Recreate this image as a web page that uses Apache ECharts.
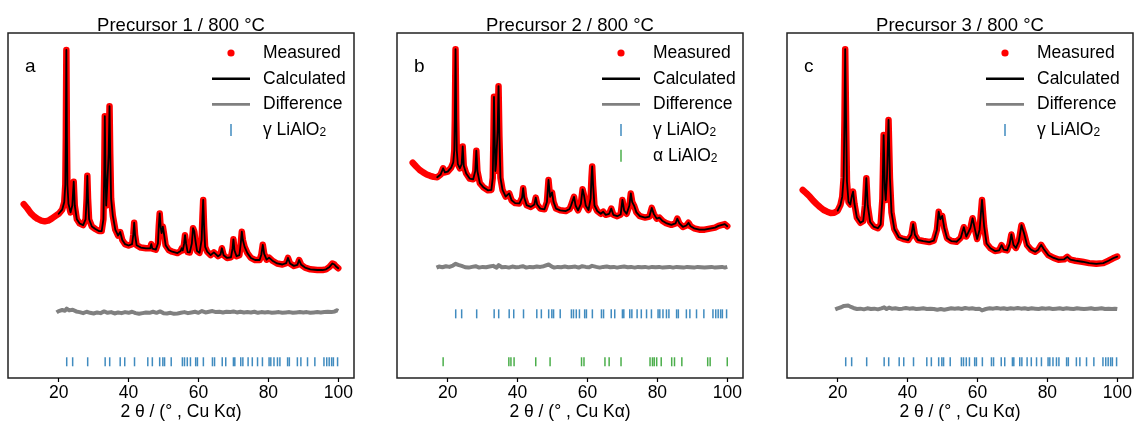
<!DOCTYPE html>
<html><head><meta charset="utf-8">
<script src="https://cdn.jsdelivr.net/npm/echarts@6/dist/echarts.min.js"></script>
<style>html,body{margin:0;padding:0;background:#fff}#c{width:1137px;height:421px}</style>
</head><body><div id="c"></div>
<script>
// ---------------- DATA ----------------
const panelTitles = ['Precursor 1 / 800 °C', 'Precursor 2 / 800 °C', 'Precursor 3 / 800 °C'];
const panelLetters = ['a', 'b', 'c'];
const xTickValues = [20, 40, 60, 80, 100];
const xAxisTitle = '2 θ / (° , Cu Kα)';
const legendNames = ['Measured', 'Calculated', 'Difference', 'γ LiAlO2', 'α LiAlO2'];

// measured profiles [2θ, intensity (a.u.)]
const p1Measured = [[10,50.4],[10.5,50.0],[11,49.2],[12,47.8],[13,46.8],[14,46.1],[15,45.6],[16,45.4],[17,45.6],[18,46.2],[19,46.9],[20,47.6],[21,48.8],[21.6,51],[21.9,56],[22.05,70],[22.2,95.1],[22.35,70],[22.5,56],[22.8,50.5],[23.4,48.0],[23.9,50],[24.3,56.9],[24.6,50],[25.2,46.0],[26,44.8],[27,44.3],[27.7,46],[28.0,52],[28.2,58.6],[28.4,52],[28.7,46],[29.5,43.9],[30.5,43.2],[31.5,42.6],[32.3,42.6],[32.8,46],[33.05,60],[33.2,75.9],[33.4,60],[33.6,50],[33.85,55],[34.3,65],[34.55,78.8],[34.75,65],[35.0,52],[35.5,47],[36.2,43],[37.0,41.3],[37.6,42.3],[38.2,40],[39,38.8],[40,38.4],[41.0,38.8],[41.35,41.5],[41.6,45.0],[41.85,41.5],[42.3,38.5],[43.5,37.8],[45,37.6],[46.2,37.6],[46.5,38.8],[46.8,37.5],[47.8,37.2],[48.4,39],[48.65,44],[48.9,47.7],[49.2,43.5],[49.45,42],[49.8,43.9],[50.1,42],[50.6,38.5],[51.5,37.1],[52.5,36.6],[54,36.2],[54.9,36.8],[55.2,37.6],[55.5,37],[55.9,39],[56.15,41.4],[56.45,39],[56.9,36.5],[57.5,36.4],[58.1,39],[58.45,43.4],[58.8,42.5],[59.1,40],[59.6,36.8],[60.3,36.3],[60.9,40],[61.15,47],[61.35,51.6],[61.6,44],[61.9,38],[62.5,36.6],[63.5,35.6],[64.4,36.4],[64.8,35.9],[65.6,35.3],[66.3,35.8],[66.7,37.6],[67.2,35.6],[68.2,34.8],[69.3,35.0],[69.75,37.5],[70.0,40.2],[70.3,37],[70.9,35.3],[71.7,35.6],[72.1,39],[72.4,42.4],[72.7,40],[73.2,38],[73.6,38.5],[74.0,36.2],[75,34.8],[76.2,34.2],[77.5,34.2],[78.0,35.8],[78.4,38.6],[78.8,36],[79.5,34.3],[80.2,34.9],[80.7,35.3],[81.3,33.9],[82.5,33.2],[84,32.9],[85.1,33.3],[85.6,34.8],[86.2,33.2],[87.3,32.5],[88.3,32.8],[88.8,34.2],[89.4,32.8],[90.5,32.0],[92,31.5],[94,31.3],[95.5,31.3],[96.5,31.5],[97.5,32.2],[98.3,33.2],[98.9,32.9],[99.4,32.3],[100,31.8]];
const p2Measured = [[10,62.4],[10.5,62.0],[11,61.3],[12,60.3],[13,59.6],[14,59.0],[15,58.6],[16,58.3],[17,58.2],[18,59.0],[18.7,60.8],[19.2,59.6],[20,59.8],[21,61.0],[21.6,62.5],[21.9,66],[22.05,75],[22.25,95.3],[22.45,75],[22.6,66],[22.9,62],[23.5,60.8],[24.0,62],[24.3,67.1],[24.6,61.5],[25.3,59.3],[26.3,57.8],[27.3,57.6],[27.9,60],[28.2,65.9],[28.5,60],[29.2,56.5],[30.3,55.2],[31.5,54.4],[32.5,54.5],[32.9,58],[33.1,70],[33.25,81.5],[33.45,70],[33.65,60],[33.85,62],[34.3,72],[34.55,84.6],[34.8,70],[35.1,58],[35.7,54.5],[36.6,52.6],[37.6,53.5],[38.3,51.5],[39.3,50.7],[40.5,50.6],[41.3,52.3],[41.6,55.0],[41.9,52.3],[42.6,50.1],[43.8,49.6],[44.8,50.3],[45.2,52.3],[45.6,50.3],[46.5,49.1],[47.7,48.9],[48.4,51],[48.85,57.4],[49.3,52.5],[49.85,53.8],[50.3,51],[51,49.1],[52.2,48.6],[53.8,48.4],[54.9,49.0],[55.3,50.0],[55.7,49.5],[56.15,52.5],[56.6,50],[57.3,48.6],[58.1,50.5],[58.6,54.7],[59.0,53],[59.5,50],[60.3,48.7],[60.9,52],[61.15,58],[61.35,61.3],[61.6,56],[62.0,50],[62.8,48.4],[63.8,47.6],[64.5,48.2],[65.2,47.3],[66.2,47.6],[66.8,49.1],[67.4,47.3],[68.5,46.9],[69.5,47.4],[70.0,51.6],[70.5,48.5],[71.2,47.6],[72.0,50],[72.4,53.5],[72.8,51],[73.4,49.8],[74.0,48],[75,46.9],[76.5,46.5],[77.7,46.8],[78.4,49.3],[79,47.5],[79.8,46.2],[80.6,46.5],[81.5,45.5],[82.5,44.9],[84,44.4],[85.2,44.8],[85.7,46.2],[86.3,44.8],[87.3,43.8],[88.3,44.2],[88.9,45.0],[89.5,44],[90.5,43.4],[92,43.0],[93.5,43.0],[95,43.3],[96.5,43.6],[97.5,44.1],[98.5,44.4],[99.3,44.6],[100,44.0]];
const p3Measured = [[10,54.5],[10.5,54.3],[11,53.6],[12,52.6],[13,51.4],[14,50.4],[15,49.5],[16,48.7],[17,48.2],[18,47.8],[19,47.9],[20,48.5],[20.8,50.2],[21.3,52.5],[21.7,58],[21.95,75],[22.15,95.3],[22.4,75],[22.65,57],[23.1,51],[23.6,50.3],[24.1,53],[24.4,54.0],[24.8,50.5],[25.5,46.5],[26.5,45.0],[27.3,45.5],[27.8,50],[28.2,57.9],[28.6,50],[29.3,45.2],[30.3,43.9],[31.5,43.4],[32.3,44.5],[32.8,52],[33.15,70.4],[33.5,55],[33.75,51.6],[34.1,58],[34.55,74.8],[34.95,58],[35.4,48],[36.2,43.2],[37.5,40.8],[38.8,40.3],[40.2,40.0],[41.1,41.5],[41.6,44.6],[42.1,41.5],[43,40.0],[44.5,39.7],[46.2,39.4],[47.5,39.8],[48.4,43],[48.9,48.2],[49.35,46.0],[49.9,47.0],[50.5,43.5],[51.3,40.5],[52.5,39.7],[54,39.5],[55.2,40.6],[56.1,43.7],[56.8,41.0],[57.3,40.8],[58.0,43.5],[58.6,46.3],[59.3,43],[59.9,40.3],[60.6,43],[61.3,51.6],[61.9,44],[62.6,39],[63.7,37.6],[65,36.8],[66.2,37.0],[66.9,38.5],[67.5,37.2],[68.5,37.0],[69.2,38.8],[69.7,41.6],[70.3,38.6],[71,37.7],[71.8,39.5],[72.6,44.3],[73.3,42],[74.2,38.5],[75.3,37.2],[76.5,36.6],[77.4,37.2],[78.2,38.6],[79.0,37.3],[80.3,35.6],[81.8,34.8],[83.2,34.3],[84.8,34.4],[85.7,35.1],[86.6,34.3],[88,34.0],[90,33.7],[92,33.3],[94,33.1],[96,33.3],[97.5,34.0],[98.8,34.7],[100,35.2]];

// start of the refined (calculated) range, 2θ
const p1CalcStart = 19.4;
const p2CalcStart = 16.8;
const p3CalcStart = 19.3;

// difference curves [2θ, value]
const p1Diff = [[19.4,19.0],[20,19.4],[21,19.7],[21.8,19.5],[22.3,20.1],[23,19.6],[24,19.8],[25,19.3],[26,19.1],[27,18.8],[28,19.2],[29,18.9],[30,18.7],[31,19.0],[32,18.8],[33,19.3],[34,18.9],[35,19.1],[36,18.7],[37,19.0],[38,18.8],[39,19.1],[40,18.9],[41,19.2],[42,18.8],[43,18.6],[44,18.8],[45,19.0],[46,18.9],[47,19.2],[48,18.9],[49,19.3],[50,18.8],[51,18.7],[52,18.9],[53,18.6],[54,18.7],[55,18.9],[56,19.1],[57,18.8],[58,19.0],[59,19.2],[60,18.9],[61,19.4],[62,19.0],[63,19.2],[64,19.4],[65,19.1],[66,19.2],[67,19.0],[68,19.2],[69,19.1],[70,19.3],[71,19.0],[72,19.2],[73,19.0],[74,19.1],[75,19.0],[76,19.2],[77,18.9],[78,19.1],[79,19.0],[80,19.1],[81,18.9],[82,19.0],[83,19.1],[84,18.9],[85,19.0],[86,19.1],[87,18.9],[88,19.0],[89,19.1],[90,19.0],[91,19.1],[92,18.9],[93,19.0],[94,19.1],[95,19.0],[96,19.1],[97,19.2],[98,19.1],[99,19.3],[99.6,19.6],[100,19.4]];
const p2Diff = [[16.8,32.0],[17.5,32.3],[18.5,32.1],[19.5,32.4],[20.5,32.2],[21.5,32.6],[22.3,33.1],[23,32.8],[24,32.5],[25,32.1],[26,32.0],[27,32.2],[28,32.4],[29,32.0],[30,32.2],[31,32.1],[32,32.3],[33,32.5],[34,32.0],[34.6,32.7],[35.5,32.1],[36.5,32.2],[37.5,32.0],[38.5,32.3],[39.5,32.1],[40.5,32.2],[41.5,32.4],[42.5,32.0],[43.5,32.2],[44.5,32.1],[45.5,32.3],[46.5,32.2],[47.5,32.4],[48.9,32.9],[49.8,32.3],[50.5,32.0],[51.5,32.2],[52.5,32.1],[53.5,32.3],[54.5,32.1],[55.5,32.2],[56.5,32.3],[57.5,32.0],[58.5,32.4],[59.5,32.2],[60.5,32.1],[61.3,32.5],[62.5,32.2],[63.5,32.0],[64.5,32.2],[65.5,32.3],[66.5,32.1],[67.5,32.2],[68.5,32.0],[69.5,32.2],[70.5,32.3],[71.5,32.1],[72.5,32.2],[73.5,32.0],[74.5,32.2],[75.5,32.1],[76.5,32.2],[77.5,32.0],[78.5,32.2],[79.5,32.1],[80.5,32.2],[81.5,32.0],[82.5,32.1],[83.5,32.2],[84.5,32.0],[85.5,32.2],[86.5,32.1],[87.5,32.0],[88.5,32.2],[89.5,32.1],[90.5,32.0],[91.5,32.2],[92.5,32.1],[93.5,32.0],[94.5,32.1],[95.5,32.2],[96.5,32.0],[97.5,32.1],[98.5,32.2],[99.3,32.0],[100,32.2]];
const p3Diff = [[19.3,19.9],[20,20.2],[21,20.5],[21.8,20.9],[22.3,21.2],[23,21.0],[23.8,20.6],[24.5,20.3],[25.5,20.0],[26.5,20.1],[27.5,19.9],[28.5,20.2],[29.5,20.0],[30.5,20.1],[31.5,19.9],[32.5,20.2],[33.3,20.5],[34,20.0],[34.7,20.4],[35.5,20.1],[36.5,20.2],[37.5,20.0],[38.5,20.1],[39.5,20.3],[40.5,20.1],[41.5,20.2],[42.5,20.0],[43.5,20.1],[44.5,20.2],[45.5,20.0],[46.5,20.1],[47.5,20.0],[48.5,19.8],[49.5,20.0],[50.5,19.8],[51.5,20.0],[52.5,20.2],[53.5,20.1],[54.5,20.2],[55.5,20.0],[56.5,20.3],[57.5,20.1],[58.5,20.2],[59.5,20.0],[60.5,20.1],[61.3,19.6],[61.8,19.3],[62.4,20.0],[63.5,20.2],[64.5,20.1],[65.5,20.3],[66.5,20.1],[67.5,20.2],[68.5,20.0],[69.5,20.2],[70.5,20.1],[71.5,20.3],[72.5,20.1],[73.5,20.2],[74.5,20.0],[75.5,20.2],[76.5,20.1],[77.5,20.0],[78.5,20.2],[79.5,20.1],[80.5,20.2],[81.5,20.0],[82.5,20.1],[83.5,20.2],[84.5,20.0],[85.5,20.2],[86.5,20.1],[87.5,20.0],[88.5,20.2],[89.5,20.1],[90.5,20.0],[91.5,20.1],[92.5,20.2],[93.5,20.0],[94.5,20.1],[95.5,20.2],[96.5,20.0],[97.5,20.1],[98.5,20.0],[99.3,20.1],[100,20.0]];

// reflection positions (2θ)
const gammaReflections = [22.3,24.0,28.3,33.3,34.6,37.6,38.9,41.7,45.5,46.8,48.9,49.8,50.3,52.2,55.4,56.0,56.8,57.7,59.2,59.7,61.4,64.0,64.6,66.8,67.8,70.0,70.4,72.1,72.7,74.2,75.4,76.9,78.3,80.2,80.7,81.6,82.6,83.3,85.5,86.0,88.3,89.3,91.2,93.3,95.9,96.7,97.4,98.1,98.6,99.8];
const alphaReflections = [18.7,37.5,38.1,39.0,45.2,49.3,58.3,59.0,65.0,66.2,69.6,77.9,78.6,79.1,79.8,81.1,84.1,84.9,87.0,94.4,95.1,100.0];
// intensity level at which each tick row is drawn
const gammaRowLevel = [4.7, 18.6, 4.7];
const alphaRowLevel = 4.7;

// ---------------- CHART ----------------
const FONT = '"Liberation Sans", Arial, sans-serif';
const gridLefts = [8, 397, 787];
const legendLefts = [212, 602, 986];
const measured = [p1Measured, p2Measured, p3Measured];
const calcStart = [p1CalcStart, p2CalcStart, p3CalcStart];
const diffs = [p1Diff, p2Diff, p3Diff];

const ICON_DOT = 'path://M-19,-6M27,6M-3.6,0a3.6,3.6,0,1,0,7.2,0a3.6,3.6,0,1,0,-7.2,0z';
const ICON_LINE = 'path://M-19,-6M27,6M-19,-1.3h38v2.6h-38z';
const ICON_BAR = 'path://M-19,-6M27,6M-0.75,-6h1.5v12h-1.5z';

const grids = [], xAxes = [], yAxes = [], series = [], legends = [], graphics = [];
for (let i = 0; i < 3; i++) {
  grids.push({left: gridLefts[i], top: 33, width: 346, height: 345, show: true,
    borderColor: '#222', borderWidth: 1.5, backgroundColor: 'transparent', outerBoundsMode: 'none', containLabel: false});
  xAxes.push({gridIndex: i, type: 'value', min: 5.5, max: 104.5,
    axisLine: {show: false}, splitLine: {show: false},
    axisTick: {show: true, inside: false, length: 4, lineStyle: {color: '#000', width: 1.2}, customValues: xTickValues},
    axisLabel: {show: true, margin: 6, fontSize: 17.5, color: '#000', fontFamily: FONT, customValues: xTickValues},
    name: xAxisTitle, nameLocation: 'middle', nameGap: 25, nameMoveOverlap: false,
    nameTextStyle: {fontSize: 17.5, color: '#000', fontFamily: FONT}});
  yAxes.push({gridIndex: i, type: 'value', min: 0, max: 100, show: false});

  series.push({name: 'Measured', type: 'line', xAxisIndex: i, yAxisIndex: i, data: measured[i],
    symbol: 'none', silent: true, z: 2,
    lineStyle: {color: '#ff0000', width: 6.5, join: 'round', cap: 'round'}, itemStyle: {color: '#ff0000'}});
  series.push({name: 'Calculated', type: 'line', xAxisIndex: i, yAxisIndex: i,
    data: measured[i].filter(d => d[0] >= calcStart[i]),
    symbol: 'none', silent: true, z: 3,
    lineStyle: {color: '#000', width: 1.8, join: 'round', cap: 'round'}, itemStyle: {color: '#000'}});
  series.push({name: 'Difference', type: 'line', xAxisIndex: i, yAxisIndex: i, data: diffs[i],
    symbol: 'none', silent: true, z: 2,
    lineStyle: {color: '#808080', width: 4, join: 'round'}, itemStyle: {color: '#808080'}});
  series.push({name: 'γ LiAlO2', type: 'scatter', xAxisIndex: i, yAxisIndex: i,
    data: gammaReflections.map(x => [x, gammaRowLevel[i]]),
    symbol: 'rect', symbolSize: [1.5, 9], silent: true, itemStyle: {color: '#1f77b4', opacity: 0.85}});
  if (i === 1) {
    series.push({name: 'α LiAlO2', type: 'scatter', xAxisIndex: i, yAxisIndex: i,
      data: alphaReflections.map(x => [x, alphaRowLevel]),
      symbol: 'rect', symbolSize: [1.5, 9], silent: true, itemStyle: {color: '#2ca02c', opacity: 0.85}});
  }

  const items = [
    {name: legendNames[0], icon: ICON_DOT, itemStyle: {color: '#ff0000', borderWidth: 0}},
    {name: legendNames[1], icon: ICON_LINE, itemStyle: {color: '#000', borderWidth: 0}},
    {name: legendNames[2], icon: ICON_LINE, itemStyle: {color: '#808080', borderWidth: 0}},
    {name: legendNames[3], icon: ICON_BAR, itemStyle: {color: '#1f77b4', borderWidth: 0}}
  ];
  if (i === 1) items.push({name: legendNames[4], icon: ICON_BAR, itemStyle: {color: '#2ca02c', borderWidth: 0}});
  legends.push({orient: 'vertical', left: legendLefts[i], top: 44, padding: 0,
    itemWidth: 46, itemHeight: 12, itemGap: 7.7, selectedMode: false,
    formatter: n => n.replace('LiAlO2', 'LiAlO{sub|2}'),
    textStyle: {fontSize: 17.5, fontFamily: FONT, color: '#000', lineHeight: 18,
      rich: {sub: {fontSize: 12, fontFamily: FONT, color: '#000', lineHeight: 10, verticalAlign: 'bottom'}}},
    data: items});

  graphics.push({type: 'text', x: gridLefts[i] + 173, y: 25.5, silent: true,
    style: {text: panelTitles[i], align: 'center', verticalAlign: 'middle', fontSize: 18.5, fontFamily: FONT, fill: '#000'}});
  graphics.push({type: 'text', x: gridLefts[i] + 17, y: 67, silent: true,
    style: {text: panelLetters[i], align: 'left', verticalAlign: 'middle', fontSize: 19, fontFamily: FONT, fill: '#000'}});
}

const chart = echarts.init(document.getElementById('c'), null, {renderer: 'canvas'});
chart.setOption({
  animation: false,
  backgroundColor: '#fff',
  grid: grids, xAxis: xAxes, yAxis: yAxes, series: series, legend: legends, graphic: graphics
});
</script></body></html>
